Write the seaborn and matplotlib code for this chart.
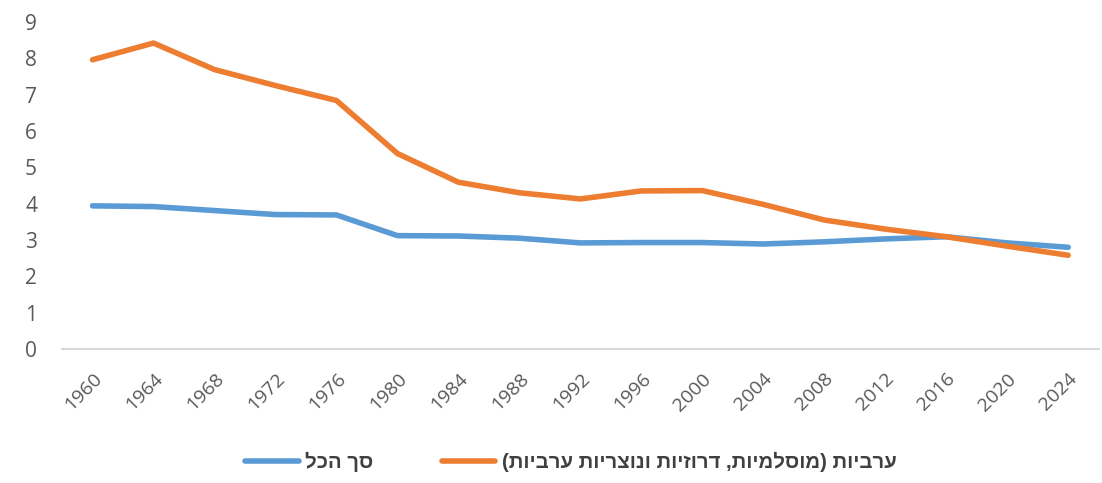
import matplotlib
matplotlib.use("Agg")
import matplotlib.pyplot as plt
import seaborn as sns
import pandas as pd

# data
years = [1960, 1964, 1968, 1972, 1976, 1980, 1984, 1988, 1992,
         1996, 2000, 2004, 2008, 2012, 2016, 2020, 2024]
total = [3.94, 3.92, 3.81, 3.70, 3.69, 3.12, 3.11, 3.05, 2.92,
         2.93, 2.93, 2.89, 2.95, 3.03, 3.09, 2.92, 2.80]
arab = [7.96, 8.42, 7.69, 7.25, 6.84, 5.38, 4.59, 4.30, 4.13,
        4.35, 4.36, 3.98, 3.55, 3.30, 3.09, 2.83, 2.58]

# Hebrew labels (logical order)
label_total = "סך הכל"
label_arab = "ערביות (מוסלמיות, דרוזיות ונוצריות ערביות)"


def visual(s):
    # matplotlib has no bidi support: reverse and mirror the parentheses
    swap = {"(": ")", ")": "("}
    return "".join(swap.get(c, c) for c in reversed(s))


df = pd.DataFrame({
    "year": years * 2,
    "value": total + arab,
    "series": [visual(label_total)] * len(years) + [visual(label_arab)] * len(years),
})

sns.set_theme(style="white")
plt.rcParams["font.family"] = ["Open Sans", "DejaVu Sans"]

fig = plt.figure(figsize=(11.02, 4.83), dpi=100)
ax = fig.add_axes([0.0563, 0.2774, 0.9407, 0.6771])

palette = {visual(label_total): "#5B9BD5", visual(label_arab): "#ED7D31"}
sns.lineplot(data=df, x="year", y="value", hue="series", palette=palette,
             linewidth=4.0, ax=ax, legend=True)
for ln in ax.lines:
    ln.set_solid_capstyle("round")
    ln.set_solid_joinstyle("round")

ax.set_xlim(1958, 2026)
ax.set_ylim(0, 9)
ax.set_xticks(years)
ax.set_xticklabels([str(y) for y in years], rotation=45, ha="right",
                   va="top", rotation_mode="anchor", fontsize=14, color="#595959")
ax.set_yticks(range(0, 10))
ax.set_yticklabels([str(v) for v in range(0, 10)], fontsize=15, color="#595959")
ax.tick_params(axis="both", length=0)
ax.tick_params(axis="x", pad=15)
ax.tick_params(axis="y", pad=18)
ax.set_xlabel("")
ax.set_ylabel("")

for side in ["top", "right", "left"]:
    ax.spines[side].set_visible(False)
ax.spines["bottom"].set_color("#D9D9D9")
ax.spines["bottom"].set_linewidth(1.5)

# legend below the plot, centred
ax.get_legend().remove()
handles = ax.lines[:2]
leg = fig.legend(handles, [visual(label_total), visual(label_arab)],
                 loc="center", bbox_to_anchor=(0.518, 0.043), ncol=2,
                 frameon=False, handlelength=2.6, handletextpad=0.3,
                 columnspacing=3.4,
                 prop={"family": ["Liberation Sans", "DejaVu Sans"],
                       "weight": "bold", "size": 14.7})
for t in leg.get_texts():
    t.set_color("#404040")

fig.savefig("out.png", dpi=100)
